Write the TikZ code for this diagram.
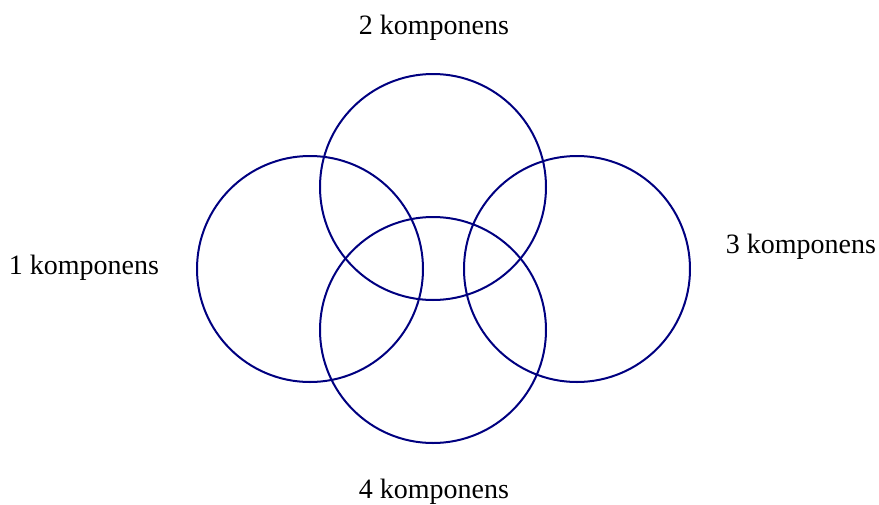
\documentclass[tikz,border=0pt]{standalone}
\usepackage{fontspec}
\setmainfont{Liberation Serif}
\usepackage{tikz}
\usetikzlibrary{positioning}
\definecolor{kornavy}{HTML}{000080}
\tikzset{
  kor/.style={circle, draw=kornavy, line width=2pt, minimum size=226pt, inner sep=0pt},
  lbl/.style={font=\fontsize{28}{32}\selectfont, inner sep=0pt},
}
\begin{document}
\begin{tikzpicture}[x=1pt, y=-1pt]
  \useasboundingbox (0,0) rectangle (879,504);
  % a negy kor
  \node[kor] (k1) at (310,269) {};
  \node[kor] (k2) at (433,187) {};
  \node[kor] (k3) at (577,269) {};
  \node[kor] (k4) at (433,330) {};
  % feliratok
  \node[lbl] (t2) at (434,28) {2 komponens};
  \node[lbl] (t1) at (84,268) {1 komponens};
  \node[lbl] (t3) at (801,247) {3 komponens};
  \node[lbl] (t4) at (434,492) {4 komponens};
\end{tikzpicture}
\end{document}
